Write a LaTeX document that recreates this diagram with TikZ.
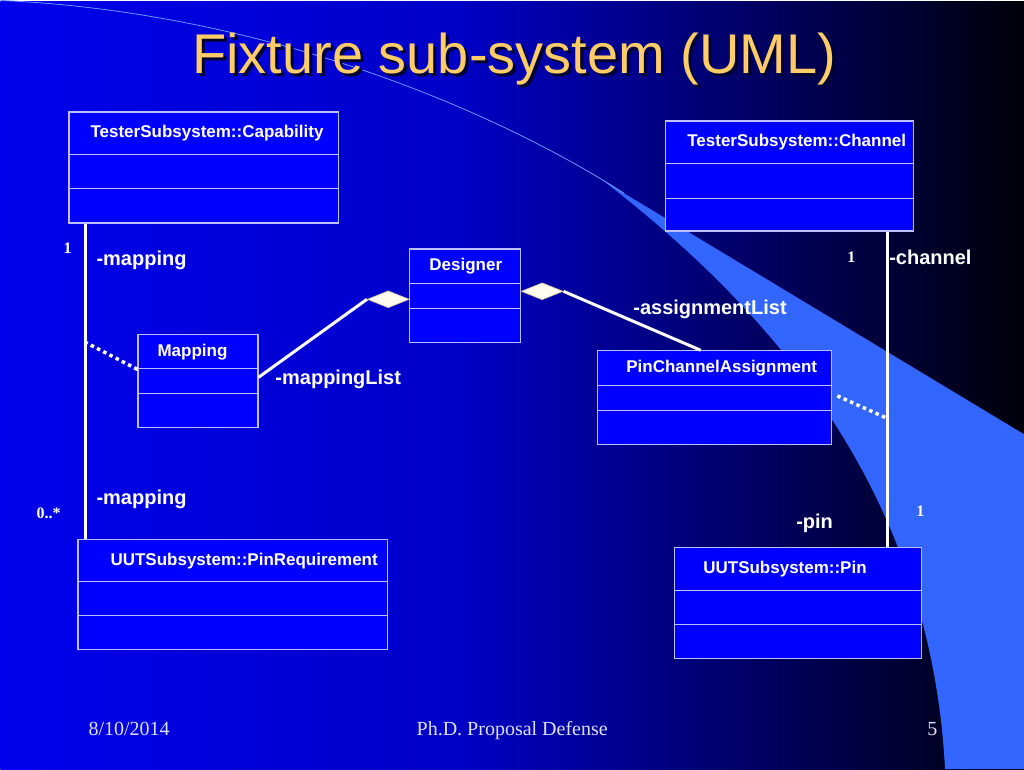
\documentclass[tikz,border=0pt]{standalone}
\usepackage{fontspec}
\setmainfont{Liberation Serif}
\setsansfont{Liberation Sans}
\usetikzlibrary{shapes.geometric,calc}

\definecolor{bgleft}{RGB}{0,0,236}
\definecolor{bgmid}{RGB}{0,0,200}
\definecolor{bgright}{RGB}{0,0,10}
\definecolor{wedgeblue}{RGB}{51,102,255}
\definecolor{arcblue}{RGB}{110,150,255}
\definecolor{boxfill}{RGB}{0,0,255}
\definecolor{boxline}{RGB}{190,190,255}
\definecolor{titlecol}{RGB}{255,204,102}
\definecolor{titleshade}{RGB}{0,0,50}
\definecolor{footcol}{RGB}{225,225,255}
\definecolor{diafill}{RGB}{255,251,238}
\definecolor{diaedge}{RGB}{210,190,150}
\pgfdeclarehorizontalshading{slidebg}{100bp}{color(0bp)=(bgleft); color(25bp)=(bgleft); color(47bp)=(bgmid); color(75bp)=(bgright); color(100bp)=(bgright)}

\begin{document}
\begin{tikzpicture}[x=1pt,y=-1pt,
  classbox/.style={draw=boxline,line width=1.2pt,fill=boxfill,inner sep=0pt,anchor=north west},
  classrule/.style={draw=boxline,line width=1.2pt},
  classname/.style={text=white,inner sep=0pt,anchor=base west,font=\sffamily\bfseries\fontsize{17}{17}\selectfont},
  role/.style={text=white,inner sep=0pt,anchor=base west,font=\sffamily\bfseries\fontsize{20}{20}\selectfont},
  mult/.style={text=white,inner sep=0pt,anchor=base west,font=\bfseries\fontsize{16}{16}\selectfont},
  foot/.style={text=footcol,inner sep=0pt,font=\fontsize{20}{20}\selectfont},
  assoc/.style={draw=white,line width=3pt},
  linkdots/.style={draw=white,line width=3.5pt,dash pattern=on 3.5pt off 3.5pt},
  aggr/.style={diamond,draw=diaedge,line width=0.6pt,fill=diafill,minimum width=42pt,minimum height=17pt,inner sep=0pt}]
% slide background
\shade[shading=slidebg] (0,0) rectangle (1024,768);
\fill[wedgeblue] (624,192) -- (1024,433) -- (1024,768) -- (945,768)
  .. controls (930,480) and (760,300) .. (600,177) -- cycle;
\draw[arcblue,line width=0.8pt] (0,-1) .. controls (250,10) and (480,100) .. (624,192);
\useasboundingbox (0,0) rectangle (1024,768);
% title, with its shadow set in the same node
\node[text=titlecol,inner sep=0pt,anchor=base,font=\sffamily\fontsize{56}{56}\selectfont] (title) at (514,72)
  {\makebox[0pt][l]{\hspace{3pt}\raisebox{-3pt}{\textcolor{titleshade}{Fixture sub-system (UML)}}}Fixture sub-system (UML)};
% classes: name/x/y/width/height/first rule/second rule/text/text indent
\foreach \nm/\px/\py/\bw/\bh/\da/\db/\txt/\ox in {
  cap/68/110/270/111/43/77/TesterSubsystem::Capability/22,
  chan/665/119/248/110/43/78/TesterSubsystem::Channel/22,
  des/409/247/111/94/35/60/Designer/20,
  map/137/333/120/93/34/59/Mapping/20,
  pca/597/349/234/94/35/60/PinChannelAssignment/29,
  req/77/538/310/110/42/76/UUTSubsystem::PinRequirement/33,
  pin/674/546/247/111/43/77/UUTSubsystem::Pin/29}
{
  \node[classbox,minimum width=\bw pt,minimum height=\bh pt] (\nm) at (\px,\py) {};
  \draw[classrule] ($(\nm.north west)+(0,\da)$) -- ($(\nm.north east)+(0,\da)$);
  \draw[classrule] ($(\nm.north west)+(0,\db)$) -- ($(\nm.north east)+(0,\db)$);
  \node[classname] (\nm-name) at ($(\nm.north west)+(\ox,{\da/2+5})$) {\txt};
}
% associations
\coordinate (capjoin) at (85,341);
\coordinate (chanjoin) at (887,417);
\draw[assoc] ([xshift=17pt]cap.south west) -- ([xshift=17pt]cap.south west |- req.north);
\draw[assoc] ([xshift=222pt]chan.south west) -- ([xshift=222pt]chan.south west |- pin.north);
\draw[linkdots] ([yshift=12pt]map.west) -- (capjoin);
\draw[linkdots] ([xshift=5pt,yshift=2pt]pca.east) -- (chanjoin);
\node[aggr] (dmap) at (388,298) {};
\node[aggr] (ddes) at (542,290) {};
\draw[assoc] ([yshift=4pt]map.east) -- (dmap.west);
\draw[assoc] (ddes.east) -- ([xshift=-14pt]pca.north);
% role names
\node[role] (maptop) at (96,264) {-mapping};
\node[role] (mapbot) at (96,503) {-mapping};
\node[role] (maplist) at (275,383) {-mappingList};
\node[role] (asglist) at (633,313) {-assignmentList};
\node[role] (chanrole) at (889,263) {-channel};
\node[role] (pinrole) at (796,527) {-pin};
% multiplicities
\node[mult] (multcap) at (63,252) {1};
\node[mult] (multchan) at (847,261) {1};
\node[mult] (multreq) at (36,517) {0..*};
\node[mult] (multpin) at (916,515) {1};
% footer
\node[foot,anchor=base west] (date) at (88,734) {8/10/2014};
\node[foot,anchor=base] (event) at (512,734) {Ph.D. Proposal Defense};
\node[foot,anchor=base west] (page) at (927,734) {5};
\end{tikzpicture}
\end{document}
